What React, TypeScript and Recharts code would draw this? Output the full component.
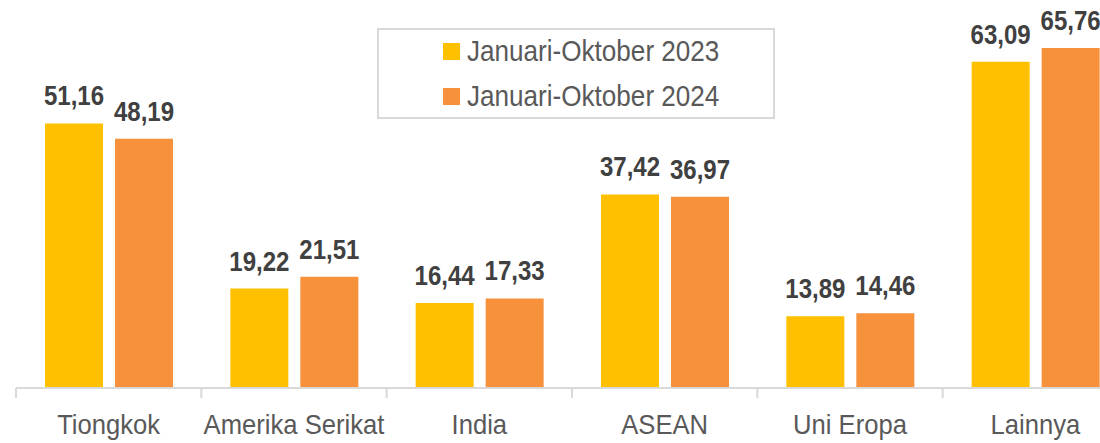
import React from 'react';
import { BarChart, Bar, XAxis, YAxis, LabelList } from 'recharts';

const categories = ['Tiongkok', 'Amerika Serikat', 'India', 'ASEAN', 'Uni Eropa', 'Lainnya'];
const values2023 = [51.16, 19.22, 16.44, 37.42, 13.89, 63.09];
const values2024 = [48.19, 21.51, 17.33, 36.97, 14.46, 65.76];
const seriesNames = ['Januari-Oktober 2023', 'Januari-Oktober 2024'];
const seriesColors = ['#FFC000', '#F8913B'];

const data = categories.map((c, i) => ({ name: c, a: values2023[i], b: values2024[i] }));

const FONT = '"Liberation Sans", Arial, sans-serif';
const fmt = (v: any) => Number(v).toFixed(2).replace('.', ',');

const CHART_W = 1140;
const LEFT = 16;
const RIGHT = 12;
const BAND = (CHART_W - LEFT - RIGHT) / categories.length;

const Tick = (props: any) => {
  const { x, y, payload } = props;
  const bx = x - BAND / 2;
  return (
    <g>
      <line x1={bx} x2={bx} y1={y} y2={y + 10} stroke="#d9d9d9" strokeWidth={2} />
      <text
        transform={`translate(${x},${y + 46}) scale(0.915,1)`}
        textAnchor="middle"
        fill="#595959"
        fontSize={28}
        fontFamily={FONT}
      >
        {payload.value}
      </text>
    </g>
  );
};

const ValueLabel = (props: any) => {
  const { x, y, width, value } = props;
  const cx = Number(x) + Number(width) / 2;
  const by = Number(y) - 18;
  return (
    <text
      transform={`translate(${cx},${by}) scale(0.89,1)`}
      textAnchor="middle"
      fill="#404040"
      fontSize={27}
      fontWeight="bold"
      fontFamily={FONT}
    >
      {fmt(value)}
    </text>
  );
};

const LegendBox = () => (
  <svg width={1100} height={443} style={{ position: 'absolute', left: 0, top: 0, pointerEvents: 'none' }}>
    <rect x={378} y={29} width={396} height={89} fill="#fff" stroke="#d9d9d9" strokeWidth={2} />
    {seriesNames.map((n, i) => (
      <g key={n}>
        <rect x={443} y={43 + i * 45} width={17} height={17} fill={seriesColors[i]} />
        <text
          transform={`translate(467,${61 + i * 45}) scale(0.9,1)`}
          fill="#595959"
          fontSize={29}
          fontFamily={FONT}
        >
          {n}
        </text>
      </g>
    ))}
  </svg>
);

export default function App() {
  return (
    <div style={{ position: 'absolute', left: 0, top: 0, width: 1100, height: 443, overflow: 'hidden', background: '#fff' }}>
      <BarChart
        width={CHART_W}
        height={443}
        data={data}
        margin={{ top: 26, right: RIGHT, left: LEFT, bottom: 0 }}
        barSize={58}
        barGap={12}
      >
        <XAxis
          dataKey="name"
          height={55}
          axisLine={{ stroke: '#d9d9d9', strokeWidth: 2 }}
          tickLine={false}
          tickSize={0}
          tickMargin={0}
          tick={<Tick />}
          interval={0}
        />
        <YAxis hide domain={[0, 70]} />
        <Bar dataKey="a" name={seriesNames[0]} fill={seriesColors[0]} isAnimationActive={false}>
          <LabelList dataKey="a" content={<ValueLabel />} />
        </Bar>
        <Bar dataKey="b" name={seriesNames[1]} fill={seriesColors[1]} isAnimationActive={false}>
          <LabelList dataKey="b" content={<ValueLabel />} />
        </Bar>
      </BarChart>
      <LegendBox />
    </div>
  );
}
